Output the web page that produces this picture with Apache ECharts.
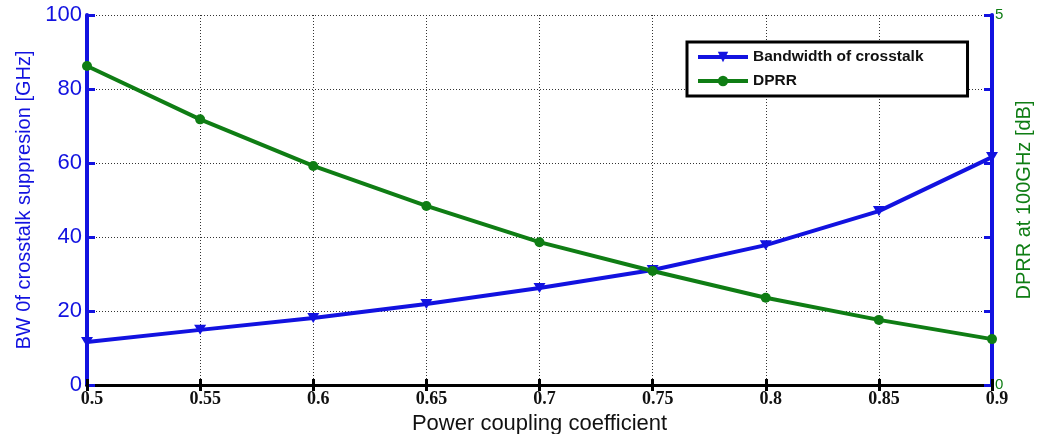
<!DOCTYPE html>
<html>
<head>
<meta charset="utf-8">
<script src="https://cdn.jsdelivr.net/npm/echarts@6/dist/echarts.min.js"></script>
<style>
  html, body { margin: 0; padding: 0; background: #fff; }
  #chart { width: 1038px; height: 434px; }
</style>
</head>
<body>
<div id="chart"></div>
<script>
// Power coupling coefficient sweep
const coupling = [0.5, 0.55, 0.6, 0.65, 0.7, 0.75, 0.8, 0.85, 0.9];
// Bandwidth of crosstalk suppression [GHz] (left axis)
const bandwidth = [11.6, 14.9, 18.1, 21.9, 26.2, 31.1, 37.8, 47.0, 61.6];
// DPRR at 100 GHz [dB] (right axis)
const dprr = [4.31, 3.59, 2.96, 2.42, 1.93, 1.54, 1.18, 0.88, 0.62];
// Tick labels shown on the right axis
const rightTickLabels = [0, 5];

const BLUE = '#1212e0';
const GREEN = '#0f7d14';
const downTriangle = 'path://M0,0 L10,0 L5,8 Z';

const chart = echarts.init(document.getElementById('chart'), null, { renderer: 'canvas' });

const fmt = v => String(+v.toFixed(2));

chart.setOption({
  animation: false,
  backgroundColor: '#fff',
  grid: { left: 87, right: 46, top: 15, bottom: 49, containLabel: false, outerBoundsMode: 'none' },
  legend: {
    orient: 'vertical',
    left: 687, top: 42,
    padding: [7, 44, 7, 9],
    itemGap: 8,
    itemWidth: 50, itemHeight: 13,
    borderColor: '#000', borderWidth: 3,
    backgroundColor: '#fff',
    lineStyle: { width: 4 },
    textStyle: { fontFamily: 'Liberation Sans, Arial', fontWeight: 'bold', fontSize: 15.5, color: '#111' },
    data: ['Bandwidth of crosstalk', 'DPRR']
  },
  xAxis: [{
    type: 'value', min: 0.5, max: 0.9, interval: 0.05,
    position: 'bottom',
    name: 'Power coupling coefficient',
    nameLocation: 'middle', nameGap: 23,
    nameTextStyle: { fontFamily: 'Liberation Sans, Arial', fontSize: 22, color: '#111', lineHeight: 22 },
    axisLine: { show: true, lineStyle: { color: '#000', width: 3 } },
    axisTick: { show: true, inside: true, length: 6, lineStyle: { color: '#000', width: 3 } },
    axisLabel: {
      formatter: fmt, fontFamily: 'Liberation Serif, Times New Roman', fontWeight: 'bold',
      fontSize: 18, color: '#111', margin: 5, padding: [0, 0, 0, 10]
    },
    splitLine: { show: true, lineStyle: { color: '#333', type: [1, 2], width: 1 } }
  }, {
    type: 'value', min: 0.5, max: 0.9, interval: 0.05,
    position: 'top',
    axisLine: { show: true, lineStyle: { color: '#000', width: 3 } },
    axisTick: { show: true, inside: true, length: 6, lineStyle: { color: '#000', width: 3 } },
    axisLabel: { show: false },
    splitLine: { show: false }
  }],
  yAxis: [{
    type: 'value', min: 0, max: 100, interval: 20,
    position: 'left',
    name: 'BW 0f crosstalk suppresion [GHz]',
    nameLocation: 'middle', nameGap: 53,
    nameTextStyle: { fontFamily: 'Liberation Sans, Arial', fontSize: 20, color: BLUE },
    axisLine: { show: true, lineStyle: { color: BLUE, width: 4 } },
    axisTick: { show: true, inside: true, length: 8, lineStyle: { color: BLUE, width: 3 } },
    axisLabel: { fontFamily: 'Liberation Sans, Arial', fontSize: 22, color: BLUE, margin: 5 },
    splitLine: { show: true, lineStyle: { color: '#333', type: [1, 2], width: 1 } }
  }, {
    type: 'value', min: 0, max: 5, interval: 1,
    position: 'right',
    name: 'DPRR at 100GHz [dB]',
    nameLocation: 'middle', nameGap: 16, nameRotate: 90,
    nameTextStyle: { fontFamily: 'Liberation Sans, Arial', fontSize: 20, color: GREEN },
    axisLine: { show: true, lineStyle: { color: BLUE, width: 4 } },
    axisTick: { show: true, inside: true, length: 8, lineStyle: { color: BLUE, width: 3 } },
    axisLabel: {
      formatter: v => rightTickLabels.includes(v) ? String(v) : '',
      fontFamily: 'Liberation Sans, Arial', fontSize: 15, color: GREEN, margin: 3
    },
    splitLine: { show: false }
  }],
  series: [{
    name: 'Bandwidth of crosstalk',
    type: 'line',
    xAxisIndex: 0, yAxisIndex: 0,
    data: coupling.map((c, i) => [c, bandwidth[i]]),
    symbol: downTriangle, symbolSize: [12, 10],
    lineStyle: { color: BLUE, width: 4 },
    itemStyle: { color: BLUE },
    z: 3
  }, {
    name: 'DPRR',
    type: 'line',
    xAxisIndex: 0, yAxisIndex: 1,
    data: coupling.map((c, i) => [c, dprr[i]]),
    symbol: 'circle', symbolSize: 10,
    lineStyle: { color: GREEN, width: 4 },
    itemStyle: { color: GREEN },
    z: 3
  }]
});
</script>
</body>
</html>
